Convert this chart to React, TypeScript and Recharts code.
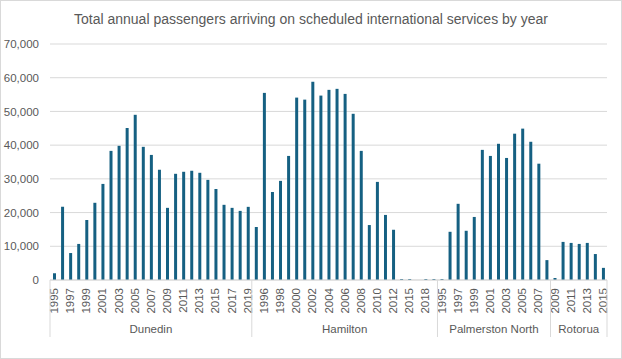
import React from 'react';
import { BarChart, Bar, XAxis, YAxis, CartesianGrid } from 'recharts';

const TITLE = 'Total annual passengers arriving on scheduled international services by year';

const groupNames = ['Dunedin', 'Hamilton', 'Palmerston North', 'Rotorua'];

const dunedinYears = [1995, 1996, 1997, 1998, 1999, 2000, 2001, 2002, 2003, 2004, 2005, 2006, 2007, 2008, 2009, 2010, 2011, 2012, 2013, 2014, 2015, 2016, 2017, 2018, 2019];
const dunedinValues = [2000, 21700, 8000, 10700, 17800, 22900, 28500, 38300, 39800, 45100, 49000, 39500, 37100, 32700, 21400, 31500, 32100, 32400, 31800, 29700, 27000, 22300, 21400, 20500, 21700];

const hamiltonYears = [1995, 1996, 1997, 1998, 1999, 2000, 2001, 2002, 2003, 2004, 2005, 2006, 2007, 2008, 2009, 2010, 2011, 2012, 2014, 2015, 2017, 2018, 2019];
const hamiltonValues = [15700, 55500, 26100, 29400, 36800, 54100, 53500, 58800, 54700, 56400, 56700, 55200, 49300, 38300, 16300, 29100, 19300, 14900, 300, 300, 0, 300, 300];

const palmerstonYears = [1995, 1996, 1997, 1998, 1999, 2000, 2001, 2002, 2003, 2004, 2005, 2006, 2007, 2008];
const palmerstonValues = [300, 14300, 22600, 14600, 18700, 38600, 36800, 40400, 36200, 43400, 44900, 41000, 34500, 5900];

const rotoruaYears = [2009, 2010, 2011, 2012, 2013, 2014, 2015];
const rotoruaValues = [600, 11300, 11000, 10700, 11000, 7700, 3600];

const yTicks = [0, 10000, 20000, 30000, 40000, 50000, 60000, 70000];

const seriesByGroup = [
  { years: dunedinYears, values: dunedinValues },
  { years: hamiltonYears, values: hamiltonValues },
  { years: palmerstonYears, values: palmerstonValues },
  { years: rotoruaYears, values: rotoruaValues },
];

type Row = { key: string; year: string; group: string; value: number; idx: number; groupStart: boolean; groupSize: number };

const rows: Row[] = [];
seriesByGroup.forEach((s, gi) => {
  s.years.forEach((y, i) => {
    rows.push({
      key: `${groupNames[gi]}-${y}`,
      year: String(y),
      group: groupNames[gi],
      value: s.values[i],
      idx: rows.length,
      groupStart: i === 0,
      groupSize: s.years.length,
    });
  });
});

const rowByKey: Record<string, Row> = {};
rows.forEach((r) => (rowByKey[r.key] = r));

const W = 622;
const H = 359;
const MARGIN = { top: 44, right: 15, left: 0, bottom: 0 };
const Y_AXIS_W = 50;
const X_AXIS_H = 79;
const PLOT_W = W - MARGIN.left - MARGIN.right - Y_AXIS_W;
const BAND = PLOT_W / rows.length;

const TEXT = '#595959';
const LINE = '#d9d9d9';
const FONT = '"Liberation Sans", Arial, sans-serif';

function CategoryTick(props: any) {
  const { x, y, payload } = props;
  const row = rowByKey[payload.value];
  if (!row) return null;
  const els: React.ReactNode[] = [];
  if (row.idx % 2 === 0) {
    const ty = y + 8;
    els.push(
      <text
        key="yr"
        x={x}
        y={ty}
        transform={`rotate(-90 ${x} ${ty})`}
        textAnchor="end"
        dominantBaseline="central"
        fill={TEXT}
        fontSize={11.5}
        fontFamily={FONT}
      >
        {row.year}
      </text>
    );
  }
  if (row.groupStart) {
    const left = x - BAND / 2;
    els.push(<line key="sep" x1={left} x2={left} y1={y} y2={y + 57} stroke={LINE} strokeWidth={1} />);
    els.push(
      <text
        key="grp"
        x={left + (row.groupSize * BAND) / 2}
        y={y + 49}
        textAnchor="middle"
        dominantBaseline="central"
        fill={TEXT}
        fontSize={11.5}
        fontFamily={FONT}
      >
        {row.group}
      </text>
    );
  }
  if (row.idx === rows.length - 1) {
    const right = x + BAND / 2;
    els.push(<line key="end" x1={right} x2={right} y1={y} y2={y + 57} stroke={LINE} strokeWidth={1} />);
  }
  return <g>{els}</g>;
}

const fmt = (v: number) => v.toLocaleString('en-US');

export default function App() {
  return (
    <div style={{ position: 'relative', width: W, height: H, background: '#fff', fontFamily: FONT }}>
      <style>{`body{margin:0}`}</style>
      <div
        style={{
          position: 'absolute',
          left: 0,
          top: 11,
          width: W,
          textAlign: 'center',
          fontSize: 14,
          lineHeight: '16px',
          color: TEXT,
          fontFamily: FONT,
        }}
      >
        {TITLE}
      </div>
      <BarChart width={W} height={H} data={rows} margin={MARGIN}>
        <CartesianGrid vertical={false} stroke={LINE} />
        <XAxis
          dataKey="key"
          interval={0}
          height={X_AXIS_H}
          tickLine={false}
          tickSize={0}
          tickMargin={0}
          axisLine={{ stroke: LINE }}
          tick={<CategoryTick />}
        />
        <YAxis
          width={Y_AXIS_W}
          domain={[0, 70000]}
          ticks={yTicks}
          tickFormatter={fmt}
          axisLine={false}
          tickLine={false}
          tickSize={0}
          tickMargin={11}
          tick={{ fill: TEXT, fontSize: 11.5, fontFamily: FONT }}
        />
        <Bar dataKey="value" fill="#156082" barSize={3} isAnimationActive={false} />
      </BarChart>
      <div
        style={{
          position: 'absolute',
          left: 0,
          top: 0,
          width: W,
          height: H,
          boxSizing: 'border-box',
          border: `1px solid ${LINE}`,
          pointerEvents: 'none',
        }}
      />
    </div>
  );
}
